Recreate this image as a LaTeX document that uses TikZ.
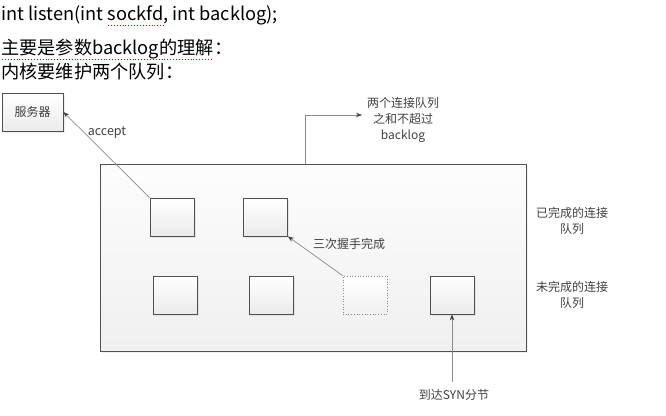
\documentclass[tikz,border=0pt]{standalone}
\usepackage{fontspec}
\setmainfont{Noto Sans CJK SC}
\usetikzlibrary{arrows.meta,shadows}
\definecolor{lbl}{HTML}{404040}
\definecolor{edge}{HTML}{505050}
\definecolor{arrc}{HTML}{8A8A8A}
\tikzset{
  qbox/.style={draw=edge, line width=0.8pt, top color=white, bottom color=black!8, minimum width=44pt, minimum height=38pt, inner sep=0pt, drop shadow={opacity=0.15, shadow xshift=1.5pt, shadow yshift=-1.5pt}},
  dqbox/.style={draw=black!45, dotted, line width=0.7pt, top color=white, bottom color=black!6, minimum width=44pt, minimum height=38pt, inner sep=0pt},
  bigbox/.style={draw=edge, line width=0.9pt, top color=black!1, bottom color=black!6, minimum width=426pt, minimum height=187pt, inner sep=0pt, drop shadow={opacity=0.12, shadow xshift=1.5pt, shadow yshift=-1.5pt}},
  arr/.style={draw=arrc, line width=0.7pt, -{Stealth[length=6pt,width=4.5pt,color=black!75]}},
  lab/.style={text=lbl, font=\fontsize{12}{16}\selectfont, align=center, inner sep=0pt},
  head/.style={anchor=west, inner sep=0pt, font=\fontsize{18.2}{21}\selectfont},
  spell/.style={draw=red!85!black, dotted, line width=0.9pt}
}
\begin{document}
\begin{tikzpicture}[x=1pt,y=-1pt]
\useasboundingbox (0,0) rectangle (666,415);
% header
\node[head] (h1) at (1,15) {int listen(int sockfd, int backlog);};
\node[head] (h2) at (1,49) {主要是参数backlog的理解\hspace{1pt}：};
\node[head] (h3) at (1,72) {内核要维护两个队列\hspace{1pt}：};
\draw[spell] (108,25.5) -- (164,25.5);
\draw[spell] (2,59.5) -- (212,59.5);
% server
\node[draw=edge, line width=0.8pt, top color=white, bottom color=black!8, minimum width=61pt, minimum height=38pt, inner sep=0pt, drop shadow={opacity=0.15, shadow xshift=1.5pt, shadow yshift=-1.5pt}, text=lbl, font=\fontsize{12}{14}\selectfont] (S) at (32.5,112) {服务器};
% big queue box
\node[bigbox] (Q) at (313,257.5) {};
% boxes
\node[qbox] (a1) at (172,217) {};
\node[qbox] (a2) at (265.5,217) {};
\node[qbox] (b1) at (175.3,295) {};
\node[qbox] (b2) at (271,295) {};
\node[dqbox] (b3) at (365,295) {};
\node[qbox] (b4) at (452,295) {};
% labels
\node[lab] (tl) at (403,120) {两个连接队列\\之和不超过\\backlog};
\node[lab] (done) at (572,221) {已完成的连接\\队列};
\node[lab] (half) at (572,295) {未完成的连接\\队列};
\node[lab] (hs) at (349,244) {三次握手完成};
\node[lab, font=\fontsize{12.5}{16}\selectfont] (acc) at (107,133) {accept};
\node[lab] (syn) at (454,395) {到达SYN分节};
% connectors
\coordinate (tp) at (305,164);
\coordinate (tend) at (362,115);
\coordinate (sp) at (452,382);
\draw[arr] (a1.north west) -- (S.east);
\draw[arr] (tp) |- (tend);
\draw[arr] (b3.north west) -- (a2.south east);
\draw[arr] (sp) -- (b4.south);
\end{tikzpicture}
\end{document}
